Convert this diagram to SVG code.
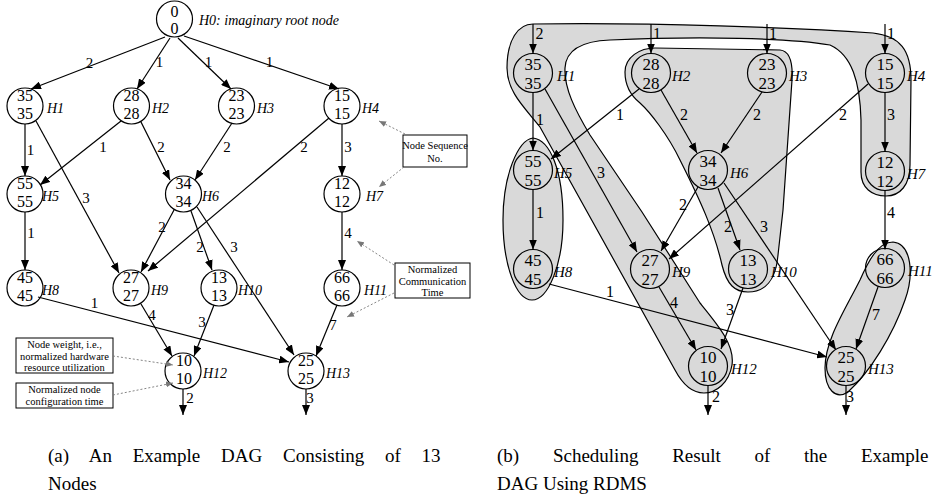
<svg xmlns="http://www.w3.org/2000/svg" width="937" height="500" viewBox="0 0 937 500">
<defs>
<marker id="ah" markerWidth="10" markerHeight="8" refX="10" refY="4" orient="auto" markerUnits="userSpaceOnUse"><path d="M0,0 L10,4 L0,8 Z" fill="#000"/></marker>
<marker id="gh" markerWidth="7" markerHeight="6" refX="7" refY="3" orient="auto" markerUnits="userSpaceOnUse"><path d="M0,0 L7,3 L0,6 Z" fill="#777"/></marker>
</defs>
<style>
text{font-family:"Liberation Serif","Times New Roman",serif}
.n{fill:none;stroke:#000;stroke-width:1.2}
.num{font-size:16px;text-anchor:middle;fill:#000}
.num2{font-size:17px;text-anchor:middle;fill:#000}
.lbl{font-style:italic;font-size:14px}
.lbl2{font-style:italic;font-size:15px}
.e{fill:none;stroke:#000;stroke-width:1.2;marker-end:url(#ah)}
.w{font-size:15px;text-anchor:middle}
.w2{font-size:16px;text-anchor:middle}
.g{fill:#d9d9d9;stroke:#000;stroke-width:1.2}
.d{fill:none;stroke:#777;stroke-width:0.9;stroke-dasharray:2 2;marker-end:url(#gh)}
.box{fill:#fff;stroke:#000;stroke-width:1}
.bt{font-size:10.5px;text-anchor:middle}
.cap{font-size:19px}
</style>
<rect width="937" height="500" fill="#fff"/>

<!-- ===== Panel (a) ===== -->
<g id="a-connectors">
<line class="e" x1="165" y1="37" x2="31" y2="89"/>
<line class="e" x1="170" y1="38" x2="137" y2="89"/>
<line class="e" x1="178" y1="38" x2="231" y2="89"/>
<line class="e" x1="184" y1="36" x2="339" y2="89"/>
<line class="e" x1="25" y1="124" x2="25" y2="176"/>
<line class="e" x1="36" y1="121" x2="119" y2="273"/>
<line class="e" x1="121" y1="121" x2="40" y2="185"/>
<line class="e" x1="141" y1="122" x2="170" y2="180"/>
<line class="e" x1="232" y1="123" x2="195" y2="180"/>
<line class="e" x1="329" y1="118" x2="148" y2="271"/>
<line class="e" x1="342" y1="124" x2="342" y2="176"/>
<line class="e" x1="25" y1="212" x2="25" y2="270"/>
<line class="e" x1="174" y1="210" x2="141" y2="272"/>
<line class="e" x1="191" y1="211" x2="212" y2="270"/>
<line class="e" x1="197" y1="207" x2="294" y2="355"/>
<line class="e" x1="342" y1="212" x2="342" y2="270"/>
<line class="e" x1="38" y1="297" x2="289" y2="362"/>
<line class="e" x1="141" y1="304" x2="172" y2="356"/>
<line class="e" x1="214" y1="305" x2="194" y2="356"/>
<line class="e" x1="337" y1="305" x2="316" y2="356"/>
<line class="e" x1="183" y1="389" x2="183" y2="415"/>
<line class="e" x1="306" y1="389" x2="306" y2="415"/>
<g>
<text class="w" x="89.5" y="68">2</text>
<text class="w" x="159.5" y="67">1</text>
<text class="w" x="208.5" y="67">1</text>
<text class="w" x="269.5" y="67">1</text>
<text class="w" x="30.5" y="155">1</text>
<text class="w" x="103" y="152">1</text>
<text class="w" x="161" y="152">2</text>
<text class="w" x="227" y="152">2</text>
<text class="w" x="304" y="152">2</text>
<text class="w" x="348" y="152">3</text>
<text class="w" x="86" y="203">3</text>
<text class="w" x="31" y="238">1</text>
<text class="w" x="162" y="232">2</text>
<text class="w" x="200" y="252">2</text>
<text class="w" x="234" y="252">3</text>
<text class="w" x="348" y="238">4</text>
<text class="w" x="94.5" y="308">1</text>
<text class="w" x="152" y="320">4</text>
<text class="w" x="202" y="327">3</text>
<text class="w" x="333" y="330">7</text>
<text class="w" x="190" y="403">2</text>
<text class="w" x="310" y="403">3</text>
</g>
</g>

<g id="a-H0"><circle class="n" cx="174.5" cy="19" r="18"/><text class="num" x="174.5" y="17">0</text><text class="num" x="174.5" y="34">0</text><text class="lbl" x="199" y="25">H0: imaginary root node</text></g>
<g id="a-H1"><circle class="n" cx="25" cy="106" r="18"/><text class="num" x="25" y="101">35</text><text class="num" x="25" y="119">35</text><text class="lbl" x="47" y="113">H1</text></g>
<g id="a-H2"><circle class="n" cx="131.5" cy="106" r="18"/><text class="num" x="131.5" y="101">28</text><text class="num" x="131.5" y="119">28</text><text class="lbl" x="152" y="113">H2</text></g>
<g id="a-H3"><circle class="n" cx="236.5" cy="106" r="18"/><text class="num" x="236.5" y="101">23</text><text class="num" x="236.5" y="119">23</text><text class="lbl" x="257" y="113">H3</text></g>
<g id="a-H4"><circle class="n" cx="342" cy="106" r="18"/><text class="num" x="342" y="101">15</text><text class="num" x="342" y="119">15</text><text class="lbl" x="362" y="113">H4</text></g>
<g id="a-H5"><circle class="n" cx="25" cy="194" r="18"/><text class="num" x="25" y="189">55</text><text class="num" x="25" y="207">55</text><text class="lbl" x="42" y="201">H5</text></g>
<g id="a-H6"><circle class="n" cx="183.5" cy="194" r="18"/><text class="num" x="183.5" y="189">34</text><text class="num" x="183.5" y="207">34</text><text class="lbl" x="202" y="201">H6</text></g>
<g id="a-H7"><circle class="n" cx="342" cy="194" r="18"/><text class="num" x="342" y="189">12</text><text class="num" x="342" y="207">12</text><text class="lbl" x="366" y="201">H7</text></g>
<g id="a-H8"><circle class="n" cx="25" cy="288" r="18"/><text class="num" x="25" y="283">45</text><text class="num" x="25" y="301">45</text><text class="lbl" x="42" y="295">H8</text></g>
<g id="a-H9"><circle class="n" cx="131" cy="288" r="18"/><text class="num" x="131" y="283">27</text><text class="num" x="131" y="301">27</text><text class="lbl" x="151" y="295">H9</text></g>
<g id="a-H10"><circle class="n" cx="219" cy="288" r="18"/><text class="num" x="219" y="283">13</text><text class="num" x="219" y="301">13</text><text class="lbl" x="238" y="295">H10</text></g>
<g id="a-H11"><circle class="n" cx="342" cy="288" r="18"/><text class="num" x="342" y="283">66</text><text class="num" x="342" y="301">66</text><text class="lbl" x="364" y="295">H11</text></g>
<g id="a-H12"><circle class="n" cx="183" cy="371" r="18"/><text class="num" x="184" y="366">10</text><text class="num" x="184" y="384">10</text><text class="lbl" x="203" y="378">H12</text></g>
<g id="a-H13"><circle class="n" cx="306" cy="371" r="18"/><text class="num" x="306" y="366">25</text><text class="num" x="306" y="384">25</text><text class="lbl" x="326" y="378">H13</text></g>

<g id="a-annotations">
<g id="note-seq"><rect class="box" x="403" y="135" width="64" height="32"/><text class="bt" x="435" y="149">Node Sequence</text><text class="bt" x="435" y="162">No.</text></g>
<g id="note-comm"><rect class="box" x="395" y="263" width="75" height="35"/><text class="bt" x="432.5" y="273">Normalized</text><text class="bt" x="432.5" y="284.5">Communication</text><text class="bt" x="432.5" y="296">Time</text></g>
<g id="note-weight"><rect class="box" x="16" y="338" width="97" height="35"/><text class="bt" x="64.5" y="348">Node weight, i.e.,</text><text class="bt" x="64.5" y="359.5">normalized hardware</text><text class="bt" x="64.5" y="371">resource utilization</text></g>
<g id="note-conf"><rect class="box" x="16" y="383" width="97" height="25"/><text class="bt" x="64.5" y="393">Normalized node</text><text class="bt" x="64.5" y="404.5">configuration time</text></g>
<line class="d" x1="405" y1="134" x2="379" y2="121"/>
<line class="d" x1="404" y1="167" x2="379" y2="187"/>
<line class="d" x1="394" y1="265" x2="357" y2="241"/>
<line class="d" x1="394" y1="293" x2="347" y2="317"/>
<line class="d" x1="113" y1="356" x2="173" y2="365"/>
<line class="d" x1="113" y1="395" x2="173" y2="383"/>
</g>

<!-- ===== Panel (b) ===== -->
<g id="b-groups">
<path id="b-group-A" class="g" d="M 533 24 C 650 22 800 28 873 33 C 900 36 911 50 911 80 L 910 165 C 910 185 900 196 886 196 C 872 196 861 188 861 172 L 861 120 C 860 82 852 55 830 45 C 790 38 700 36 610 40 C 585 41 566 48 565 68 C 564 88 575 110 590 135 L 642 212 L 700 303 C 718 325 735 345 732 365 C 729 383 716 393 704 393 C 692 393 683 385 675 370 L 540 127 C 525 108 507 92 507 68 C 507 40 518 24 533 24 Z"/>
<path id="b-group-B" class="g" d="M 625 72 C 625 57 640 48 655 48 L 780 50 C 790 51 793 62 792 80 L 783 210 L 778 255 C 776 280 765 292 748 292 C 735 292 727 285 722 265 C 714 230 700 200 680 160 C 668 135 650 112 640 103 C 630 95 625 85 625 72 Z"/>
<path id="b-group-C" class="g" d="M 533 138 C 550 140 563 170 563 220 C 563 265 548 300 532 300 C 516 300 503 265 503 220 C 503 175 518 140 533 138 Z"/>
<path id="b-group-D" class="g" d="M 893 242 C 912 244 914 275 905 300 C 893 335 870 372 848 392 C 836 400 825 390 825 368 C 825 340 845 310 860 280 C 868 262 878 242 893 242 Z"/>
</g>

<g id="b-connectors">
<line class="e" x1="533" y1="24" x2="533" y2="53.5"/>
<line class="e" x1="651" y1="24" x2="651" y2="53.5"/>
<line class="e" x1="767" y1="24" x2="767" y2="53.5"/>
<line class="e" x1="885" y1="24" x2="885" y2="53.5"/>
<line class="e" x1="533" y1="92.5" x2="533" y2="150.5"/>
<line class="e" x1="545" y1="89" x2="637" y2="252"/>
<line class="e" x1="639" y1="89" x2="551" y2="159"/>
<line class="e" x1="661" y1="90" x2="697" y2="153"/>
<line class="e" x1="762" y1="92" x2="721" y2="153"/>
<line class="e" x1="868" y1="84" x2="669" y2="259"/>
<line class="e" x1="885" y1="92.5" x2="885" y2="151.5"/>
<line class="e" x1="533" y1="189.5" x2="533" y2="249.5"/>
<line class="e" x1="698" y1="187" x2="661" y2="251"/>
<line class="e" x1="718" y1="188" x2="740" y2="250"/>
<line class="e" x1="724" y1="183" x2="836" y2="350"/>
<line class="e" x1="885" y1="190.5" x2="885" y2="249.5"/>
<line class="e" x1="549" y1="284" x2="827" y2="357"/>
<line class="e" x1="659" y1="287" x2="696" y2="350"/>
<line class="e" x1="743" y1="288" x2="721" y2="349"/>
<line class="e" x1="878" y1="287" x2="856" y2="349"/>
<line class="e" x1="708" y1="385.5" x2="708" y2="415"/>
<line class="e" x1="846" y1="385.5" x2="846" y2="415"/>
<g>
<text class="w2" x="539.5" y="39">2</text>
<text class="w2" x="657" y="39">1</text>
<text class="w2" x="773" y="39">1</text>
<text class="w2" x="891" y="39">1</text>
<text class="w2" x="540" y="125">1</text>
<text class="w2" x="601" y="178">3</text>
<text class="w2" x="620" y="120">1</text>
<text class="w2" x="684" y="120">2</text>
<text class="w2" x="757" y="120">2</text>
<text class="w2" x="843" y="120">2</text>
<text class="w2" x="891" y="120">3</text>
<text class="w2" x="540" y="218">1</text>
<text class="w2" x="683" y="210">2</text>
<text class="w2" x="728" y="232">2</text>
<text class="w2" x="764" y="232">3</text>
<text class="w2" x="891" y="218">4</text>
<text class="w2" x="610" y="297">1</text>
<text class="w2" x="674" y="308">4</text>
<text class="w2" x="730" y="315">3</text>
<text class="w2" x="876" y="320">7</text>
<text class="w2" x="716" y="402">2</text>
<text class="w2" x="850" y="402">3</text>
</g>
</g>

<g id="b-H1"><circle class="n" cx="533" cy="73" r="19.5"/><text class="num2" x="533" y="70">35</text><text class="num2" x="533" y="89">35</text><text class="lbl2" x="557" y="81">H1</text></g>
<g id="b-H2"><circle class="n" cx="651" cy="73" r="19.5"/><text class="num2" x="651" y="70">28</text><text class="num2" x="651" y="89">28</text><text class="lbl2" x="672" y="81">H2</text></g>
<g id="b-H3"><circle class="n" cx="767" cy="73" r="19.5"/><text class="num2" x="767" y="70">23</text><text class="num2" x="767" y="89">23</text><text class="lbl2" x="789" y="81">H3</text></g>
<g id="b-H4"><circle class="n" cx="885" cy="73" r="19.5"/><text class="num2" x="885" y="70">15</text><text class="num2" x="885" y="89">15</text><text class="lbl2" x="907" y="81">H4</text></g>
<g id="b-H5"><circle class="n" cx="533" cy="170" r="19.5"/><text class="num2" x="533" y="167">55</text><text class="num2" x="533" y="186">55</text><text class="lbl2" x="554" y="178">H5</text></g>
<g id="b-H6"><circle class="n" cx="708" cy="170" r="19.5"/><text class="num2" x="708" y="167">34</text><text class="num2" x="708" y="186">34</text><text class="lbl2" x="730" y="178">H6</text></g>
<g id="b-H7"><circle class="n" cx="885" cy="171" r="19.5"/><text class="num2" x="885" y="168">12</text><text class="num2" x="885" y="187">12</text><text class="lbl2" x="907" y="179">H7</text></g>
<g id="b-H8"><circle class="n" cx="533" cy="269" r="19.5"/><text class="num2" x="533" y="266">45</text><text class="num2" x="533" y="285">45</text><text class="lbl2" x="554" y="277">H8</text></g>
<g id="b-H9"><circle class="n" cx="650" cy="269" r="19.5"/><text class="num2" x="650" y="266">27</text><text class="num2" x="650" y="285">27</text><text class="lbl2" x="672" y="277">H9</text></g>
<g id="b-H10"><circle class="n" cx="748" cy="269" r="19.5"/><text class="num2" x="748" y="266">13</text><text class="num2" x="748" y="285">13</text><text class="lbl2" x="771" y="277">H10</text></g>
<g id="b-H11"><circle class="n" cx="885" cy="268" r="19.5"/><text class="num2" x="885" y="265">66</text><text class="num2" x="885" y="284">66</text><text class="lbl2" x="908" y="276">H11</text></g>
<g id="b-H12"><circle class="n" cx="708" cy="366" r="19.5"/><text class="num2" x="708" y="363">10</text><text class="num2" x="708" y="382">10</text><text class="lbl2" x="731" y="374">H12</text></g>
<g id="b-H13"><circle class="n" cx="846" cy="366" r="19.5"/><text class="num2" x="846" y="363">25</text><text class="num2" x="846" y="382">25</text><text class="lbl2" x="868" y="374">H13</text></g>

<g id="captions">
<text class="cap" x="48" y="462" word-spacing="16">(a) An Example DAG Consisting of 13</text>
<text class="cap" x="48" y="490">Nodes</text>
<text class="cap" x="497" y="462" word-spacing="29">(b) Scheduling Result of the Example</text>
<text class="cap" x="497" y="490">DAG Using RDMS</text>
</g>
</svg>
